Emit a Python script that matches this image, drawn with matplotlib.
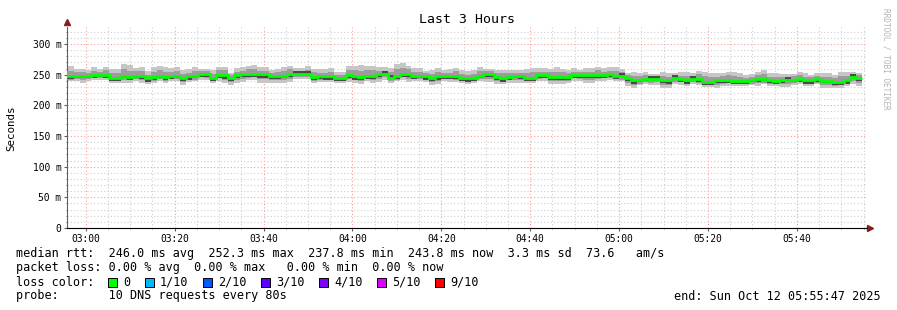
import numpy as np
import pandas as pd
import matplotlib
matplotlib.use("Agg")
import matplotlib.pyplot as plt
import matplotlib.dates as mdates
from matplotlib.ticker import FuncFormatter, MultipleLocator

# --- data (ms), one value per 80 s step -----------------------------------
start = pd.Timestamp("2025-10-12 02:55:47")
step_seconds = 80

median = [
    248, 248, 248, 248, 248, 250, 250, 250, 245, 245, 248, 246, 248.5, 248.5, 244, 246, 248.5, 246, 248.5, 248.5, 245, 247, 248,
    250.5, 250.5, 245, 249, 249, 245, 249, 250.5, 250.5, 250.5, 250.5, 250.5, 248, 248, 248, 250.5, 251.5, 251.5, 251.5, 246, 247, 247, 247,
    245, 245, 250, 248, 246, 248.5, 248.5, 250.5, 250.5, 245, 248, 250.5, 250.5, 248.5, 248.5, 247, 245, 247, 248.5, 247.5, 247.5, 245, 244,
    245, 248.5, 250.5, 250.5, 246, 244, 246, 248.5, 248.5, 245, 245, 249, 249, 246, 246, 246, 246, 249, 249, 249, 249, 249, 249,
    250.5, 248, 248, 244, 240.5, 241.5, 243, 242.5, 242.5, 240.5, 240.5, 244, 242.5, 240.5, 243.5, 242.5, 238.5, 238.5, 240.5, 241, 241, 240, 240,
    240, 241.5, 243, 243, 240.5, 240, 241.5, 241.5, 242, 243, 240.5, 240.5, 243, 240, 240, 238, 238, 240.5, 246, 244,
]

# smoke spread around the median (ms above / below)
outer_hi = [
    16, 16, 12, 12, 9, 12, 9, 13, 14, 14, 19, 19, 13, 14, 12, 16, 16, 16, 12, 14, 12, 12, 14,
    9, 9, 12, 14, 14, 8, 12, 12, 14, 16, 12, 12, 9, 12, 14, 14, 9, 9, 12, 14, 12, 12, 14,
    9, 9, 14, 16, 19, 16, 16, 12, 12, 16, 19, 19, 14, 12, 12, 9, 12, 14, 9, 12, 14, 12, 12,
    12, 14, 9, 9, 12, 14, 12, 9, 9, 14, 16, 12, 12, 14, 16, 14, 12, 12, 9, 12, 12, 14, 12,
    12, 14, 12, 9, 14, 12, 12, 9, 9, 14, 12, 9, 12, 14, 9, 14, 16, 14, 12, 12, 14, 14, 12,
    9, 9, 12, 14, 12, 12, 9, 9, 9, 12, 12, 9, 9, 12, 12, 12, 16, 14, 9, 9,
]
outer_lo = [
    9, 9, 9, 12, 9, 9, 9, 9, 9, 9, 12, 9, 9, 12, 9, 9, 9, 9, 9, 9, 12, 9, 9,
    9, 9, 9, 9, 12, 12, 12, 12, 9, 9, 14, 14, 12, 12, 12, 12, 9, 9, 9, 9, 9, 9, 9,
    9, 9, 12, 12, 12, 9, 12, 12, 9, 9, 9, 9, 12, 9, 9, 9, 12, 12, 9, 9, 9, 9, 9,
    9, 9, 12, 12, 12, 9, 9, 12, 12, 9, 9, 9, 9, 12, 12, 12, 9, 9, 9, 12, 12, 9, 9,
    9, 9, 9, 12, 12, 9, 9, 9, 9, 12, 12, 9, 9, 9, 9, 9, 9, 9, 12, 9, 9, 9, 9,
    9, 9, 12, 9, 9, 9, 12, 12, 9, 9, 9, 9, 9, 12, 12, 9, 9, 9, 12, 12,
]
mid_hi = [
    8, 8, 6, 6, 5, 6, 5, 8, 8, 8, 11, 10, 8, 8, 6, 9, 9, 9, 6, 8, 6, 6, 8,
    5, 5, 6, 8, 8, 5, 6, 6, 8, 9, 6, 6, 5, 6, 8, 8, 5, 5, 6, 8, 6, 6, 8,
    5, 5, 8, 9, 10, 9, 9, 6, 6, 9, 11, 11, 8, 6, 6, 5, 6, 8, 5, 6, 8, 6, 6,
    6, 8, 5, 5, 6, 8, 6, 5, 5, 8, 9, 6, 6, 8, 9, 8, 6, 6, 5, 6, 6, 8, 6,
    6, 8, 6, 5, 8, 6, 6, 5, 5, 8, 6, 5, 6, 8, 5, 8, 9, 8, 6, 6, 8, 8, 6,
    5, 5, 6, 8, 6, 6, 5, 5, 5, 6, 6, 5, 5, 6, 6, 6, 9, 8, 5, 5,
]
mid_lo = [
    6, 6, 5, 7, 5, 6, 5, 5, 6, 6, 7, 5, 6, 7, 5, 6, 5, 6, 5, 6, 7, 5, 6,
    5, 6, 6, 5, 7, 7, 7, 7, 6, 5, 8, 8, 7, 7, 7, 7, 5, 6, 5, 6, 6, 5, 6,
    6, 5, 7, 7, 7, 6, 7, 7, 5, 6, 6, 5, 7, 6, 5, 6, 7, 7, 6, 5, 6, 5, 6,
    6, 5, 7, 7, 7, 6, 5, 7, 7, 6, 5, 6, 5, 7, 7, 7, 6, 5, 6, 7, 7, 6, 5,
    6, 5, 6, 7, 7, 6, 5, 6, 5, 7, 7, 6, 5, 6, 5, 6, 5, 6, 7, 6, 5, 6, 5,
    5, 6, 7, 6, 5, 6, 7, 7, 6, 5, 6, 5, 6, 7, 7, 6, 5, 6, 7, 7,
]
# darkest smoke next to the median (signed ms)
dark = [
    -5, -5, -4, -4, -4, -5, -4, -5, -6, -6, -4, -5, -4, -5, -6, -5, -4, -5, -5, -4, -6, -5, -4,
    -4, -5, -5, -5, -6, -5, -5, -4, -5, -5, -6, -6, -5, -5, -4, -5, 5, 5, 5, -5, -4, -5, -5,
    -5, -5, -5, -6, -5, -6, -6, -4, 5, 5, -5, -4, -5, -5, -4, -5, -6, -5, -5, -4, -5, -5, -6,
    -5, -4, -5, -5, -5, -6, -5, -4, -5, -6, -6, -5, -5, -5, -4, -4, -5, -4, -5, -4, -5, -5, -4,
    -5, -5, 5, -5, -5, -4, -4, 5, 5, -4, -5, 5, -4, -5, 5, -5, -5, -5, -4, -5, -4, -5, -5,
    -5, -4, -5, -4, -4, -5, -5, 5, -4, -5, -5, -5, -5, -4, -4, -5, -5, -5, 5, -5,
]

loss_labels = ["0", "1/10", "2/10", "3/10", "4/10", "5/10", "9/10"]
loss_colors = ["#00ff00", "#00b8ff", "#0059ff", "#5e00ff", "#7e00ff", "#dd00ff", "#ff0000"]

legend_lines = [
    "median rtt:  246.0 ms avg  252.3 ms max  237.8 ms min  243.8 ms now  3.3 ms sd  73.6   am/s",
    "packet loss: 0.00 % avg  0.00 % max   0.00 % min  0.00 % now",
    "loss color:",
    "probe:       10 DNS requests every 80s",
]
end_label = "end: Sun Oct 12 05:55:47 2025"

# --- figure ------------------------------------------------------------------
W, H = 897, 310
mono = "DejaVu Sans Mono"
plt.rcParams["font.family"] = mono

fig = plt.figure(figsize=(W / 100, H / 100), dpi=100)
fig.patch.set_facecolor("white")
ax = fig.add_axes([67 / W, 82 / H, 800 / W, 201 / H])

med = np.array(median, dtype=float)
n = len(med)
edges = pd.date_range(start - pd.Timedelta(seconds=70), periods=n + 1, freq=f"{step_seconds}s")
x = mdates.date2num(edges.to_pydatetime())


def ext(a):
    a = np.asarray(a, dtype=float)
    return np.append(a, a[-1])


ax.fill_between(x, ext(med - np.array(outer_lo)), ext(med + np.array(outer_hi)),
                step="post", color="#c6c6c6", linewidth=0, zorder=2)
ax.fill_between(x, ext(med - np.array(mid_lo)), ext(med + np.array(mid_hi)),
                step="post", color="#9c9c9c", linewidth=0, zorder=3)
ax.fill_between(x, ext(med), ext(med + np.array(dark)),
                step="post", color="#4a4a4a", linewidth=0, zorder=4)
ax.stairs(med, x, color="#00ff00", linewidth=2.0, baseline=None, zorder=5)

t0 = mdates.date2num(start.to_pydatetime())
ax.set_xlim(t0, t0 + 180 / 1440)
ax.set_ylim(0, 327.7)

ax.xaxis.set_major_locator(mdates.MinuteLocator(byminute=[0, 20, 40]))
ax.xaxis.set_minor_locator(mdates.MinuteLocator(byminute=range(0, 60, 5)))
ax.xaxis.set_major_formatter(mdates.DateFormatter("%H:%M"))
ax.yaxis.set_major_locator(MultipleLocator(50))
ax.yaxis.set_minor_locator(MultipleLocator(10))
ax.yaxis.set_major_formatter(FuncFormatter(lambda v, p: "0" if v == 0 else f"{int(v)} m"))

ax.grid(which="minor", color="#cfcfcf", linestyle=(0, (1, 2)), linewidth=0.8, zorder=1)
ax.grid(which="major", color="#ff9a9a", linestyle=(0, (1, 2)), linewidth=0.8, zorder=1)
ax.set_axisbelow(True)

for s in ["top", "right"]:
    ax.spines[s].set_visible(False)
ax.spines["left"].set_color("#606060")
ax.spines["bottom"].set_color("black")
ax.tick_params(which="both", direction="out", length=2, color="#606060", labelsize=6.9, pad=2)
ax.tick_params(which="minor", length=1)

ax.plot([0], [1.025], marker="^", color="#8b1a1a", markersize=4, transform=ax.transAxes, clip_on=False)
ax.plot([1.004], [0], marker=">", color="#8b1a1a", markersize=4, transform=ax.transAxes, clip_on=False)

ax.set_title("Last 3 Hours", fontsize=9.5, pad=3)
fig.text(11 / W, 1 - 128 / H, "Seconds", rotation=90, ha="center", va="center", fontsize=7.8)
fig.text(886 / W, 1 - 59 / H, "RRDTOOL / TOBI OETIKER", rotation=270, ha="center", va="center",
         fontsize=5.6, color="#b4b4b4")

# legend text
fs = 8.5
for i, line in enumerate(legend_lines):
    fig.text(16 / W, 1 - (254 + 14 * i) / H, line, ha="left", va="center", fontsize=fs)

sq_x = [108, 145, 203, 261, 319, 377, 435]
for xs, lab, col in zip(sq_x, loss_labels, loss_colors):
    fig.patches.append(plt.Rectangle((xs / W, 1 - 287 / H), 9 / W, 9 / H, transform=fig.transFigure,
                                     facecolor=col, edgecolor="black", linewidth=0.7))
    fig.text((xs + 15) / W, 1 - 282 / H, lab, ha="left", va="center", fontsize=fs)

fig.text(881 / W, 1 - 296 / H, end_label, ha="right", va="center", fontsize=fs)

fig.savefig("out.png", dpi=100)
